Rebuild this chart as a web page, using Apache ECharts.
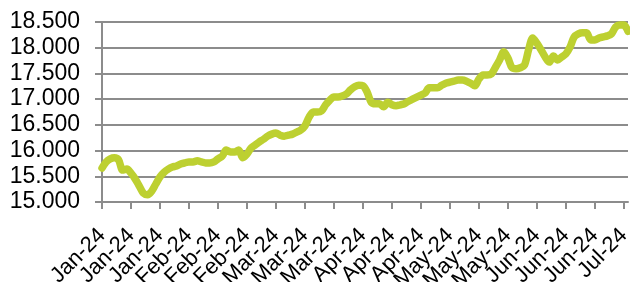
<!DOCTYPE html>
<html>
<head>
<meta charset="utf-8">
<script src="https://cdn.jsdelivr.net/npm/echarts@6/dist/echarts.min.js"></script>
<style>
  html, body { margin: 0; padding: 0; background: #fff; }
  #chart { width: 630px; height: 282px; }
</style>
</head>
<body>
<div id="chart"></div>
<script>
// one label every 7 trading days
const tickLabels = [
  'Jan-24', 'Jan-24', 'Jan-24', 'Feb-24', 'Feb-24', 'Feb-24', 'Mar-24',
  'Mar-24', 'Mar-24', 'Apr-24', 'Apr-24', 'Apr-24', 'May-24', 'May-24',
  'May-24', 'Jun-24', 'Jun-24', 'Jun-24', 'Jul-24',
]
const daysPerTick = 7

const values = [
  15.66, 15.78, 15.84, 15.86, 15.82, 15.62, 15.64, 15.56, 15.45, 15.31,
  15.17, 15.14, 15.21, 15.35, 15.49, 15.58, 15.64, 15.68, 15.70, 15.74,
  15.76, 15.78, 15.78, 15.80, 15.78, 15.76, 15.76, 15.78, 15.84, 15.89,
  16.01, 15.97, 15.97, 16.01, 15.86, 15.93, 16.05, 16.11, 16.17, 16.22,
  16.28, 16.32, 16.34, 16.30, 16.28, 16.30, 16.32, 16.36, 16.40, 16.48,
  16.65, 16.75, 16.75, 16.77, 16.89, 16.98, 17.04, 17.04, 17.06, 17.10,
  17.18, 17.24, 17.27, 17.26, 17.14, 16.94, 16.91, 16.91, 16.85, 16.94,
  16.89, 16.87, 16.89, 16.91, 16.96, 17.00, 17.04, 17.08, 17.12, 17.22,
  17.22, 17.22, 17.27, 17.31, 17.33, 17.35, 17.37, 17.37, 17.35, 17.31,
  17.26, 17.39, 17.47, 17.47, 17.49, 17.62, 17.76, 17.92, 17.80, 17.61,
  17.59, 17.61, 17.66, 17.96, 18.19, 18.09, 17.96, 17.82, 17.72, 17.84,
  17.76, 17.82, 17.88, 18.01, 18.21, 18.27, 18.29, 18.29, 18.15, 18.15,
  18.19, 18.21, 18.23, 18.27, 18.40, 18.44, 18.44, 18.32,
]

// category per trading day, label only on every 7th day
const categories = values.map((_, i) => (i % daysPerTick === 0 ? tickLabels[i / daysPerTick] : ''))

const chart = echarts.init(document.getElementById('chart'), null, { renderer: 'canvas' })

chart.setOption({
  animation: false,
  grid: {
    left: 102,
    right: 2,
    top: 22,
    bottom: 80,
    outerBoundsMode: 'none',
    containLabel: false,
  },
  xAxis: {
    type: 'category',
    data: categories,
    boundaryGap: false,
    axisLine: { show: true, lineStyle: { color: '#8c8c8c', width: 2 } },
    axisTick: {
      show: true,
      length: 7,
      interval: (i) => i % daysPerTick === 0,
      lineStyle: { color: '#8c8c8c', width: 2 },
    },
    axisLabel: {
      interval: 0,
      rotate: 45,
      margin: 30,
      color: '#000',
      fontFamily: 'Liberation Sans',
      fontSize: 22,
    },
    splitLine: { show: false },
  },
  yAxis: {
    type: 'value',
    min: 15,
    max: 18.5,
    interval: 0.5,
    axisLine: { show: true, lineStyle: { color: '#8c8c8c', width: 2 } },
    axisTick: { show: true, length: 7, lineStyle: { color: '#8c8c8c', width: 2 } },
    axisLabel: {
      margin: 22,
      color: '#000',
      fontFamily: 'Liberation Sans',
      fontSize: 23,
      formatter: (v) => v.toFixed(3),
    },
    splitLine: { show: true, lineStyle: { color: '#8c8c8c', width: 2 } },
  },
  series: [{
    type: 'line',
    data: values,
    showSymbol: false,
    smooth: 0.3,
    lineStyle: { color: '#bdd031', width: 7.5, cap: 'round', join: 'round' },
  }],
})
</script>
</body>
</html>
